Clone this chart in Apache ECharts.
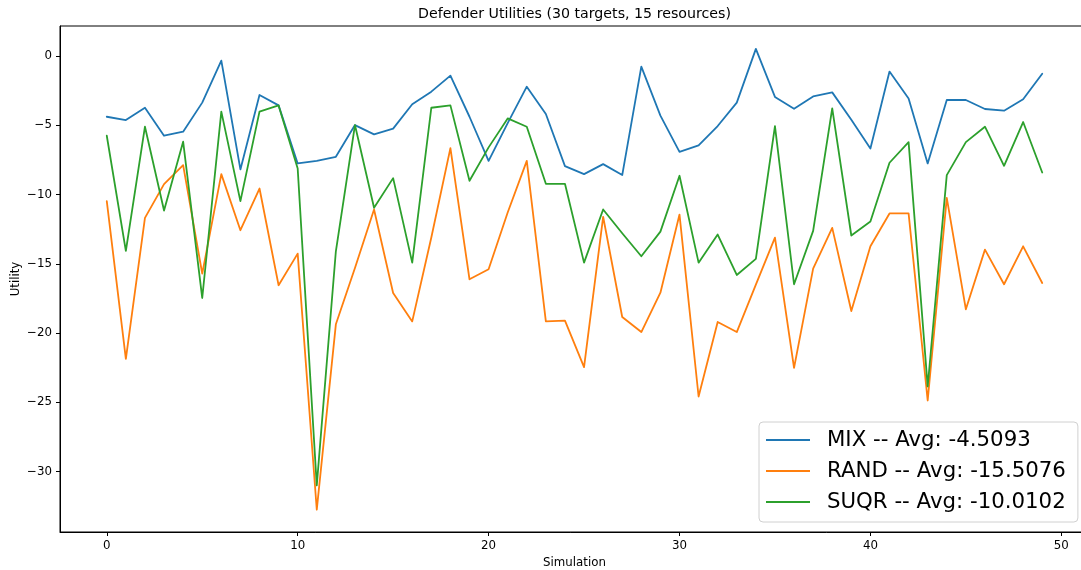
<!DOCTYPE html>
<html>
<head>
<meta charset="utf-8">
<title>Defender Utilities</title>
<script src="https://cdn.jsdelivr.net/npm/echarts@6/dist/echarts.min.js"></script>
<style>
  html, body { margin: 0; padding: 0; background: #fff; }
  #chart { width: 1081px; height: 570px; }
</style>
</head>
<body>
<div id="chart"></div>
<script>
// Defender utility per simulation run for each strategy
const mix = [-4.39, -4.63, -3.74, -5.76, -5.47, -3.37, -0.34, -8.19, -2.82, -3.57,
  -7.76, -7.57, -7.28, -4.99, -5.66, -5.25, -3.49, -2.58, -1.42, -4.39,
  -7.57, -4.85, -2.22, -4.19, -7.95, -8.53, -7.81, -8.60, -0.77, -4.31,
  -6.92, -6.46, -5.06, -3.37, 0.51, -2.96, -3.81, -2.92, -2.63, -4.60,
  -6.68, -1.13, -3.08, -7.76, -3.18, -3.18, -3.83, -3.95, -3.13, -1.28];

const rand = [-10.48, -21.86, -11.69, -9.25, -7.88, -15.71, -8.53, -12.58, -9.57, -16.55,
  -14.27, -32.75, -19.37, -15.30, -11.08, -17.11, -19.16, -13.10, -6.65, -16.12,
  -15.40, -11.30, -7.57, -19.16, -19.11, -22.46, -11.61, -18.84, -19.93, -17.09,
  -11.45, -24.58, -19.20, -19.93, -16.50, -13.11, -22.51, -15.35, -12.41, -18.41,
  -13.74, -11.37, -11.37, -24.87, -10.24, -18.29, -13.98, -16.48, -13.74, -16.39];

const suqr = [-5.76, -14.07, -5.11, -11.16, -6.19, -17.47, -4.02, -10.48, -4.02, -3.57,
  -8.12, -31.00, -14.10, -4.99, -10.96, -8.82, -14.92, -3.74, -3.57, -9.01,
  -6.60, -4.51, -5.11, -9.23, -9.23, -14.92, -11.08, -12.80, -14.46, -12.68,
  -8.65, -14.92, -12.89, -15.81, -14.65, -5.06, -16.48, -12.63, -3.78, -12.96,
  -11.95, -7.71, -6.22, -23.86, -8.60, -6.22, -5.11, -7.93, -4.77, -8.41];

const seriesNames = ['MIX', 'RAND', 'SUQR'];
const seriesAverages = ['-4.5093', '-15.5076', '-10.0102'];
const seriesColors = ['#1f77b4', '#ff7f0e', '#2ca02c'];

const xTicks = [0, 10, 20, 30, 40, 50];
const yTicks = [0, -5, -10, -15, -20, -25, -30];

const FONT = '"DejaVu Sans", sans-serif';
const minus = v => String(v).replace('-', '\u2212');

const values = [mix, rand, suqr];
const legendLabels = seriesNames.map((n, k) => `${n} -- Avg: ${seriesAverages[k]}`);

const chart = echarts.init(document.getElementById('chart'), null, { renderer: 'canvas' });

chart.setOption({
  animation: false,
  backgroundColor: '#fff',
  title: {
    text: 'Defender Utilities (30 targets, 15 resources)',
    left: 574.5,
    top: 7,
    padding: 0,
    textAlign: 'center',
    textStyle: { fontFamily: FONT, fontSize: 14.2, fontWeight: 'normal', color: '#000' }
  },
  grid: {
    left: 60, top: 26, width: 1029, height: 506,
    show: true, borderColor: '#000', borderWidth: 1, backgroundColor: 'transparent',
    containLabel: false,
    outerBoundsMode: 'none'
  },
  xAxis: {
    type: 'value',
    min: -2.45, max: 51.45,
    name: 'Simulation',
    nameLocation: 'middle',
    nameGap: 25,
    nameMoveOverlap: false,
    nameTextStyle: { fontFamily: FONT, fontSize: 11.8, color: '#000' },
    splitLine: { show: false },
    axisLine: { show: true, onZero: false, lineStyle: { color: '#000', width: 1 } },
    axisTick: { show: true, length: 4, lineStyle: { color: '#000', width: 1 }, customValues: xTicks },
    axisLabel: { fontFamily: FONT, fontSize: 11.8, color: '#000', margin: 8,
      customValues: xTicks, formatter: v => minus(v) }
  },
  yAxis: {
    type: 'value',
    min: -34.36, max: 2.16,
    name: 'Utility',
    nameLocation: 'middle',
    nameGap: 38,
    nameMoveOverlap: false,
    nameRotate: 90,
    nameTextStyle: { fontFamily: FONT, fontSize: 11.8, color: '#000' },
    splitLine: { show: false },
    axisLine: { show: true, onZero: false, lineStyle: { color: '#000', width: 1 } },
    axisTick: { show: true, length: 4, lineStyle: { color: '#000', width: 1 }, customValues: yTicks },
    axisLabel: { fontFamily: FONT, fontSize: 11.8, color: '#000', margin: 8,
      customValues: yTicks, formatter: v => minus(v) }
  },
  legend: {
    orient: 'vertical',
    left: 759, top: 422,
    padding: [5, 12, 7, 7],
    itemGap: 5,
    itemWidth: 44,
    itemHeight: 2,
    icon: 'rect',
    backgroundColor: '#fff',
    borderColor: '#d0d0d0',
    borderWidth: 1,
    borderRadius: 4,
    textStyle: { fontFamily: FONT, fontSize: 21.3, color: '#000', lineHeight: 26, padding: [0, 0, 0, 12] },
    data: legendLabels
  },
  series: values.map((arr, k) => ({
    name: legendLabels[k],
    type: 'line',
    data: arr.map((v, i) => [i, v]),
    showSymbol: false,
    symbol: 'none',
    color: seriesColors[k],
    lineStyle: { color: seriesColors[k], width: 1.8, join: 'round', cap: 'round' },
    z: 2 + k
  }))
});
</script>
</body>
</html>
